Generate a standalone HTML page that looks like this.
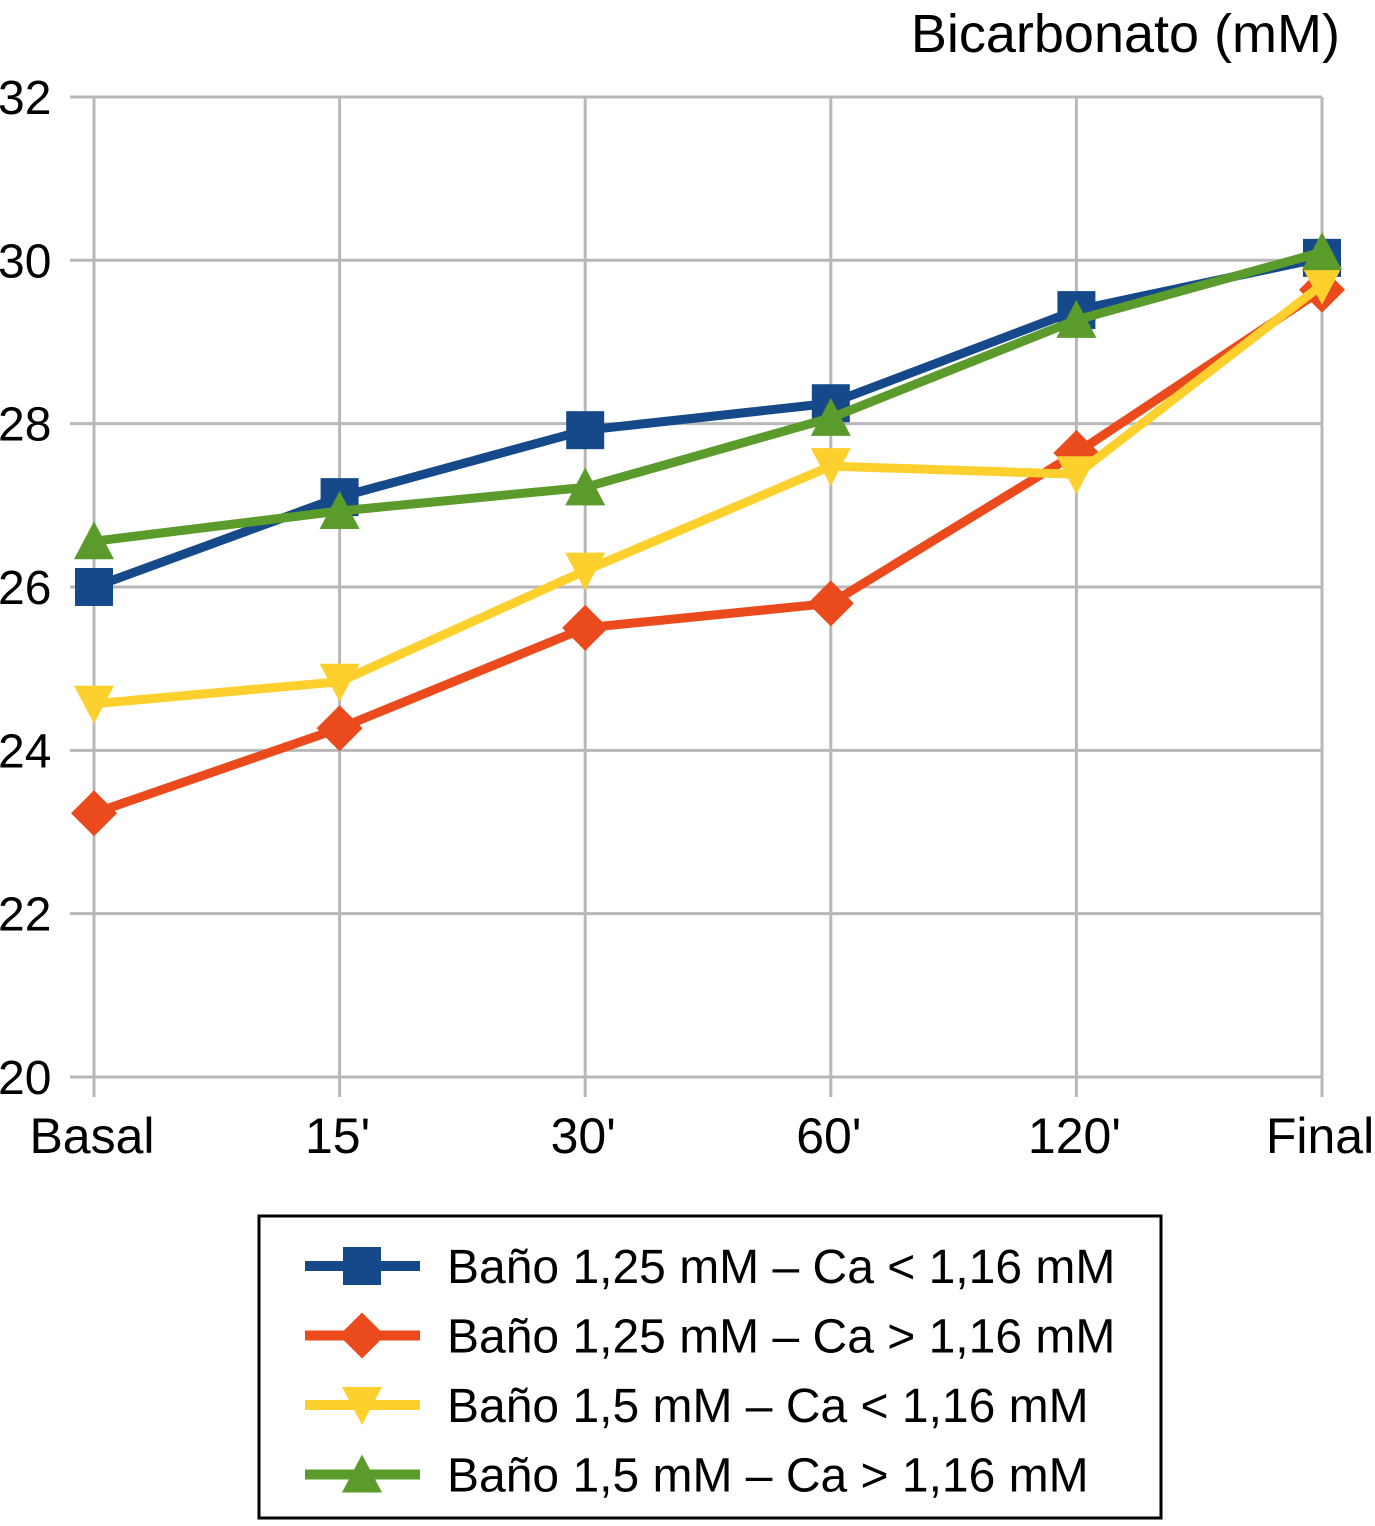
<!DOCTYPE html>
<html><head><meta charset="utf-8"><style>
body{margin:0;background:#fff;}
svg text{font-family:"Liberation Sans",sans-serif;}
</style></head><body>
<svg id="chart" width="1375" height="1521" xmlns="http://www.w3.org/2000/svg">
<text x="1340" y="52" font-size="54" text-anchor="end">Bicarbonato (mM)</text>
<g id="grid"></g><g id="series"></g>
<rect x="259" y="1216" width="902" height="302" fill="none" stroke="#000" stroke-width="3"/>
<g id="legend"></g>
</svg>
<script>
const categories=["Basal","15'","30'","60'","120'","Final"];
const yTicks=[20,22,24,26,28,30,32];
const seriesNames=["Baño 1,25 mM – Ca < 1,16 mM","Baño 1,25 mM – Ca > 1,16 mM","Baño 1,5 mM – Ca < 1,16 mM","Baño 1,5 mM – Ca > 1,16 mM"];
const blueVals=[26.0,27.1,27.92,28.25,29.39,30.03];
const redVals=[23.23,24.27,25.5,25.8,27.64,29.64];
const yellowVals=[24.57,24.84,26.2,27.48,27.38,29.7];
const greenVals=[26.56,26.93,27.22,28.07,29.27,30.1];
const NS="http://www.w3.org/2000/svg";
const x=i=>94+i*245.6;
const y=v=>1077-(v-20)*81.67;
function mk(t,a,p){const e=document.createElementNS(NS,t);for(const k in a)e.setAttribute(k,a[k]);p.appendChild(e);return e;}
const grid=document.getElementById('grid');
yTicks.forEach(v=>{
 const l=mk('line',{x1:70,x2:1322,y1:y(v),y2:y(v),stroke:'#b8b8b8','stroke-width':3},grid);
 
 
 const t=mk('text',{x:-2,y:y(v)+17,'font-size':48},grid);t.textContent=v;
 
 
});
categories.forEach((c,i)=>{
 const l=mk('line',{x1:x(i),x2:x(i),y1:97,y2:1097,stroke:'#b8b8b8','stroke-width':3},grid);
 
 
 const t=mk('text',{x:x(i)-2,y:1153,'font-size':50,'text-anchor':'middle'},grid);t.textContent=c;
 
 
});
function marker(type,cx,cy,col,p){
 let e;
 if(type==='sq')e=mk('rect',{x:cx-19,y:cy-19,width:38,height:38,fill:col},p);
 else if(type==='dia')e=mk('polygon',{points:`${cx},${cy-23} ${cx+23},${cy} ${cx},${cy+23} ${cx-23},${cy}`,fill:col},p);
 else if(type==='down')e=mk('polygon',{points:`${cx-20},${cy-18} ${cx+20},${cy-18} ${cx},${cy+20}`,fill:col},p);
 else e=mk('polygon',{points:`${cx-20},${cy+18} ${cx+20},${cy+18} ${cx},${cy-20}`,fill:col},p);
 return e;
}
const defs=[[blueVals,'#15498a','sq','blue'],[redVals,'#ea4a1c','dia','red'],[yellowVals,'#fdd02e','down','yellow'],[greenVals,'#5b9b2c','up','green']];
const sg=document.getElementById('series');
defs.forEach(([vals,col,m,nm],si)=>{
 const g=mk('g',{},sg);
 
 
 const pl=mk('polyline',{points:vals.map((v,i)=>x(i)+','+y(v)).join(' '),fill:'none',stroke:col,'stroke-width':9,'stroke-linejoin':'round'},g);
 
 
 vals.forEach((v,i)=>{const e=marker(m,x(i),y(v),col,g);
  
  });
 const lg=document.getElementById('legend');
 const ly=1266+si*69.5;
 const ge=mk('g',{},lg);
 
 
 mk('line',{x1:305,x2:420,y1:ly,y2:ly,stroke:col,'stroke-width':10},ge);
 marker(m,362,ly,col,ge);
 const t=mk('text',{x:447,y:ly+17,'font-size':48},ge);t.textContent=seriesNames[si];
});
</script>
</body></html>
